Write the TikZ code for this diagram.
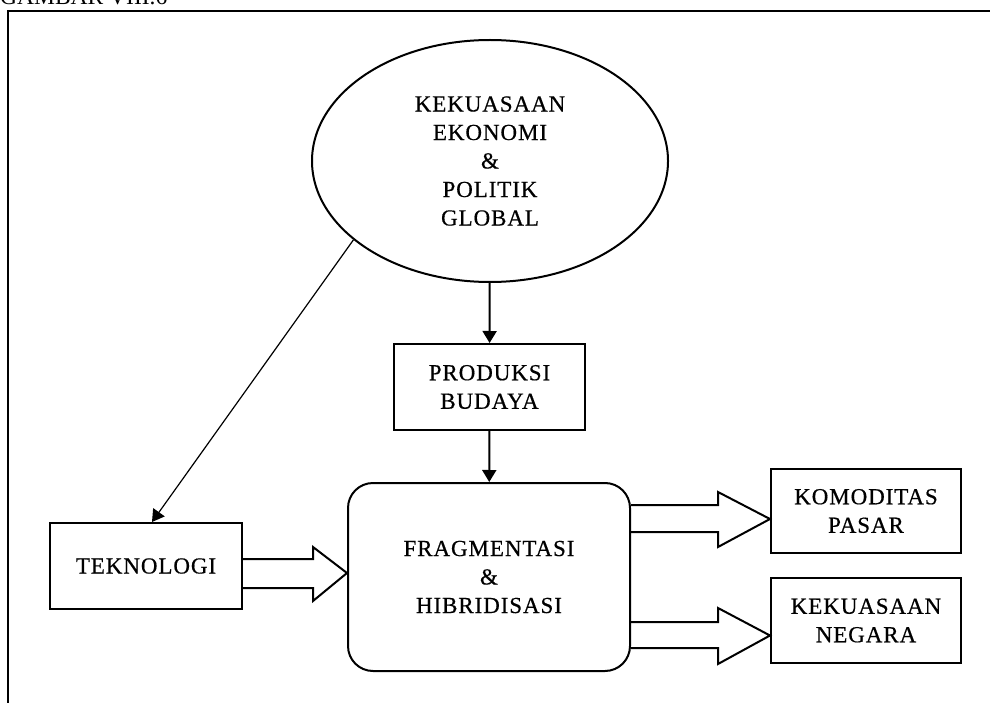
\documentclass[tikz,border=0pt]{standalone}
\usepackage{fontspec}
\setmainfont{Liberation Serif}
\newfontfamily\diagfont[LetterSpace=4,FakeBold=0.5]{Liberation Serif}
\usetikzlibrary{shapes.geometric,arrows.meta,calc}

\newcommand{\boxfont}{\diagfont\fontsize{23}{28.5}\selectfont}

\tikzset{
  box/.style={draw,line width=2pt,inner sep=0pt,align=center,font=\boxfont},
  arrowline/.style={draw,line width=2pt,-{Triangle[length=12pt,width=14pt]}},
  blockarrow/.style={draw,line width=2pt,line join=miter}
}

\begin{document}
\begin{tikzpicture}[x=1pt,y=-1pt]
      \useasboundingbox (0,0) rectangle (990,703);

      \node[anchor=base west,inner sep=0pt,font=\fontsize{23.5}{28}\selectfont] (0) at (0,5) {GAMBAR VIII.6};
      \draw[line width=2.5pt] (8,704) -- (8,11) -- (992,11);

      \begin{scope}[every node/.style={box}]
        \node[ellipse,minimum width=356pt,minimum height=242pt] (1) at (490,161) {KEKUASAAN\\EKONOMI\\\&\\POLITIK\\GLOBAL};
        \node[minimum width=191pt,minimum height=86pt] (2) at (489.5,387) {PRODUKSI\\BUDAYA};
        \node[rounded corners=25pt,minimum width=282pt,minimum height=188pt] (3) at (489,577) {FRAGMENTASI\\\&\\HIBRIDISASI};
        \node[minimum width=192pt,minimum height=86pt] (4) at (146,566) {TEKNOLOGI};
        \node[minimum width=190pt,minimum height=84pt] (5) at (866,511) {KOMODITAS\\PASAR};
        \node[minimum width=190pt,minimum height=85pt] (6) at (866,620.5) {KEKUASAAN\\NEGARA};
      \end{scope}

      \begin{scope}[every edge/.style={arrowline}]
        \path (1) edge (2);
        \path (2) edge (3);
        \path (1.210) edge[line width=1.2pt] ($(4.north)+(6,0)$);
      \end{scope}

      \begin{scope}[every path/.style={blockarrow}]
        \draw ($(4.east)+(0,-7)$) -- ++(70,0) -- ++(0,-12) -- ($(3.west)+(0,-4)$) -- ($(4.east)+(70,35)$) -- ++(0,-13) -- ($(4.east)+(0,22)$);
        \draw ($(3.east)+(0,-72)$) -- ++(87,0) -- ++(0,-13) -- ($(5.west)+(0,8)$) -- ($(3.east)+(87,-30)$) -- ++(0,-15) -- ($(3.east)+(0,-45)$);
        \draw ($(3.east)+(0,45)$) -- ++(87,0) -- ++(0,-14) -- ($(6.west)+(0,15)$) -- ($(3.east)+(87,87)$) -- ++(0,-16) -- ($(3.east)+(0,71)$);
      \end{scope}

    \end{tikzpicture}
\end{document}
